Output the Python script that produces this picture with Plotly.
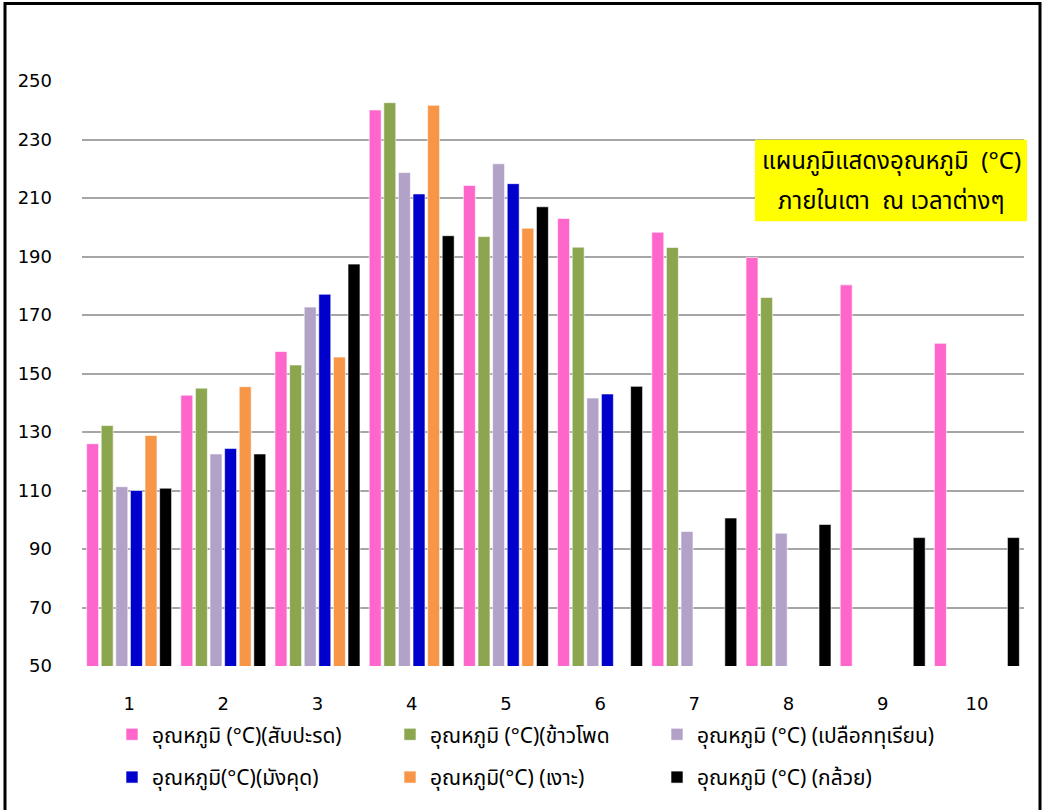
import plotly.graph_objects as go

# Time points (x categories)
categories = ["1", "2", "3", "4", "5", "6", "7", "8", "9", "10"]

# Oven temperature (°C) per material
pineapple = [126.0, 142.6, 157.5, 240.1, 214.3, 203.0, 198.3, 189.7, 180.3, 160.3]
corn = [132.2, 145.0, 152.9, 242.6, 196.8, 193.2, 193.1, 176.0, None, None]
durian_peel = [111.3, 122.5, 172.7, 218.7, 221.7, 141.6, 96.0, 95.4, None, None]
mangosteen = [110.0, 124.4, 177.1, 211.4, 214.9, 143.0, None, None, None, None]
rambutan = [128.8, 145.5, 155.6, 241.7, 199.7, None, None, None, None, None]
banana = [110.8, 122.5, 187.4, 197.1, 207.0, 145.6, 100.6, 98.4, 93.9, 93.9]

series_names = [
    "อุณหภูมิ (°C)(สับปะรด)",
    "อุณหภูมิ (°C)(ข้าวโพด",
    "อุณหภูมิ (°C) (เปลือกทุเรียน)",
    "อุณหภูมิ(°C)(มังคุด)",
    "อุณหภูมิ(°C) (เงาะ)",
    "อุณหภูมิ (°C) (กล้วย)",
]
series_values = [pineapple, corn, durian_peel, mangosteen, rambutan, banana]
series_colors = ["#FF66CC", "#8BA64F", "#B3A2C7", "#0000CC", "#F79646", "#000000"]

y_ticks = [50, 70, 90, 110, 130, 150, 170, 190, 210, 230, 250]

title_lines = ["แผนภูมิแสดงอุณหภูมิ  (°C)", "ภายในเตา  ณ เวลาต่างๆ"]

FONT = "Tahoma, 'Noto Sans Thai', 'Noto Sans', 'DejaVu Sans', sans-serif"
NUM_FONT = "'DejaVu Sans', Verdana, sans-serif"

W, H = 1044, 810
L, R, T, B = 82, 20, 81, 141
PW, PH = W - L - R, H - T - B


def px_x(px):
    return (px - L) / PW


def px_y(py):
    return (H - B - py) / PH


fig = go.Figure()

legend_ids = ["legend", "legend2", "legend3", "legend4", "legend5", "legend6"]
for name, vals, color, lg in zip(series_names, series_values, series_colors, legend_ids):
    fig.add_trace(go.Bar(
        x=categories, y=vals, name=name,
        marker=dict(color=color, line=dict(color="white", width=0.6)),
        legend=lg, showlegend=True,
    ))

# Legend entries laid out as a 3x2 grid
legend_pos = [(112, 738), (390, 738), (657, 738), (112, 781), (390, 781), (657, 781)]
legend_layout = {}
for lg, (lx, ly) in zip(legend_ids, legend_pos):
    legend_layout[lg] = dict(
        x=px_x(lx), y=px_y(ly), xanchor="left", yanchor="middle",
        bgcolor="rgba(0,0,0,0)", font=dict(family=FONT, size=21, color="#000000"),
        visible=True,
    )

shapes = [
    # yellow title box
    dict(type="rect", xref="paper", yref="paper",
         x0=px_x(755), x1=px_x(1027), y0=px_y(222), y1=px_y(140),
         fillcolor="#FFFF00", line=dict(width=0), layer="above"),
    # outer frame
    dict(type="rect", xref="paper", yref="paper",
         x0=px_x(5), x1=px_x(1040), y0=px_y(830), y1=px_y(3),
         fillcolor="rgba(0,0,0,0)", line=dict(color="#000000", width=3), layer="above"),
]

annotations = [
    dict(text=title_lines[0], xref="paper", yref="paper", x=px_x(891), y=px_y(162),
         xanchor="center", yanchor="middle", showarrow=False,
         font=dict(family=FONT, size=24, color="#000000")),
    dict(text=title_lines[1], xref="paper", yref="paper", x=px_x(891), y=px_y(203),
         xanchor="center", yanchor="middle", showarrow=False,
         font=dict(family=FONT, size=24, color="#000000")),
]

fig.update_layout(
    width=W, height=H,
    margin=dict(l=L, r=R, t=T, b=B),
    paper_bgcolor="white", plot_bgcolor="white",
    barmode="group", bargap=0.07, bargroupgap=0.18,
    showlegend=True,
    font=dict(family=FONT, size=16, color="#000000"),
    shapes=shapes, annotations=annotations,
    **legend_layout,
)

fig.update_xaxes(
    type="category", showgrid=False, showline=False, ticks="",
    tickfont=dict(family=NUM_FONT, size=18, color="#000000"),
    ticklabelstandoff=25,
)
fig.update_yaxes(
    range=[50, 250], tickvals=y_ticks, showgrid=True, gridcolor="#A6A6A6", gridwidth=2,
    zeroline=False, showline=False, ticks="",
    tickfont=dict(family=NUM_FONT, size=18, color="#000000"),
    ticklabelstandoff=29,
)

fig.write_html("out.html")
